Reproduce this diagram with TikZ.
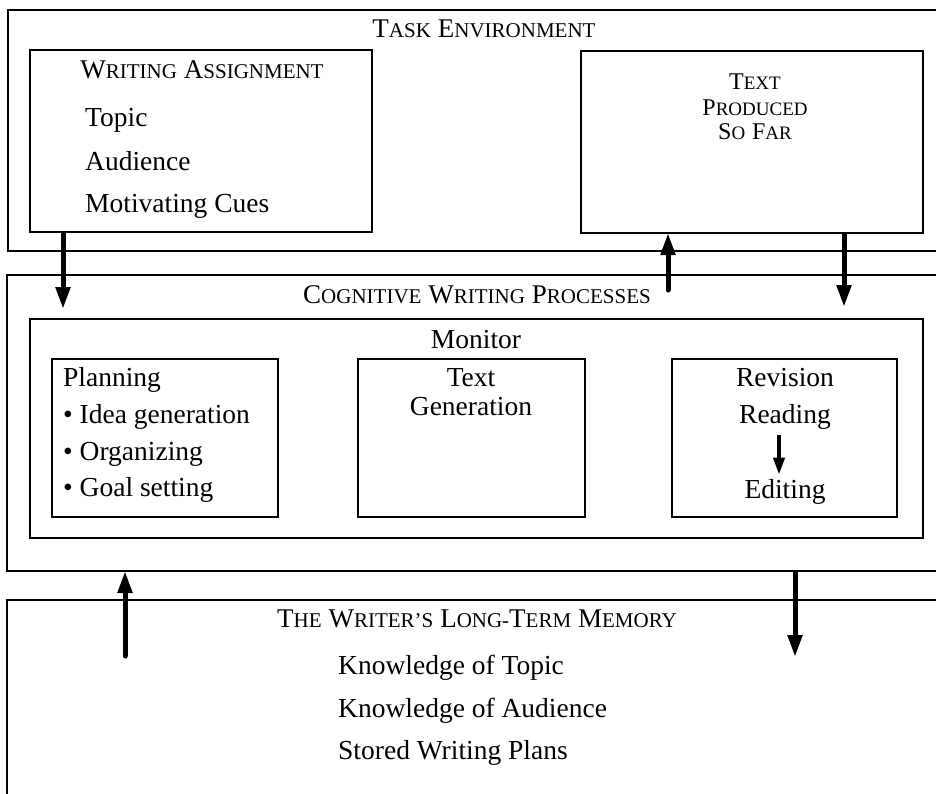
\documentclass[tikz,border=0pt]{standalone}
\usepackage{fontspec}
\setmainfont{Liberation Serif}
\usetikzlibrary{arrows.meta,calc}
\newcommand{\SCa}[2]{{\fontsize{27}{30}\selectfont #1}{\fontsize{21}{24}\selectfont #2}}
\newcommand{\SCb}[2]{{\fontsize{24}{26}\selectfont #1}{\fontsize{19}{21}\selectfont #2}}
\begin{document}
\begin{tikzpicture}[x=1pt,y=-1pt,
  frame/.style={draw,line width=1.8pt},
  box/.style={draw,line width=1.8pt,inner sep=0pt,outer sep=0pt},
  lt/.style={inner sep=0pt,anchor=base west,font=\fontsize{27.5}{30}\selectfont},
  ct/.style={inner sep=0pt,anchor=base,font=\fontsize{27.5}{30}\selectfont},
  bigarrow/.style={line width=5pt,-{Triangle[width=14pt,length=22pt]}},
  smallarrow/.style={line width=3.8pt,-{Triangle[width=11pt,length=17pt]}}]
\useasboundingbox (0,0) rectangle (936,793);
\clip (0,0) rectangle (936,793);
% outer open frames
\draw[frame] (945,10) -- (8,10) -- (8,251) -- (945,251);
\draw[frame] (945,275) -- (7,275) -- (7,571) -- (945,571);
\draw[frame] (945,600) -- (7,600) -- (7,800);
% titles
\node[ct] (tetitle) at (484,37) {\SCa{T}{ASK} \SCa{E}{NVIRONMENT}};
\node[ct] (cwtitle) at (477,303) {\SCa{C}{OGNITIVE} \SCa{W}{RITING} \SCa{P}{ROCESSES}};
\node[ct] (ltmtitle) at (477,627) {\SCa{T}{HE} \SCa{W}{RITER'S} \SCa{L}{ONG-}\SCa{T}{ERM} \SCa{M}{EMORY}};
% writing assignment
\node[box,minimum width=342pt,minimum height=182pt] (wa) at (201,141) {};
\node[ct] (watitle) at (202,78) {\SCa{W}{RITING} \SCa{A}{SSIGNMENT}};
\node[lt] (topic) at (85,126) {Topic};
\node[lt] (aud) at (85,170) {Audience};
\node[lt] (cues) at (85,212) {Motivating Cues};
% text produced so far
\node[box,minimum width=342pt,minimum height=182pt] (tp) at (752,142) {};
\node[ct] (tp1) at (755,89) {\SCb{T}{EXT}};
\node[ct] (tp2) at (755,115) {\SCb{P}{RODUCED}};
\node[ct] (tp3) at (755,139) {\SCb{S}{O} \SCb{F}{AR}};
% monitor
\node[box,minimum width=893pt,minimum height=219pt] (mon) at (476.5,428.5) {};
\node[ct] (montitle) at (476,348) {Monitor};
% planning
\node[box,minimum width=226pt,minimum height=158pt] (plan) at (165,438) {};
\node[lt] (p0) at (63,386) {Planning};
\node[lt] (p1) at (63,423) {\textbullet\ Idea generation};
\node[lt] (p2) at (63,460) {\textbullet\ Organizing};
\node[lt] (p3) at (63,496) {\textbullet\ Goal setting};
% text generation
\node[box,minimum width=227pt,minimum height=158pt] (tg) at (471.5,438) {};
\node[ct] (tg1) at (471,386) {Text};
\node[ct] (tg2) at (471,415) {Generation};
% revision
\node[box,minimum width=225pt,minimum height=158pt] (rev) at (784.5,438) {};
\node[ct] (rv0) at (785,386) {Revision};
\node[ct] (rv1) at (785,423) {Reading};
\node[ct] (rv2) at (785,498) {Editing};
% long-term memory items
\node[lt] (k1) at (338,674) {Knowledge of Topic};
\node[lt] (k2) at (338,717) {Knowledge of Audience};
\node[lt] (k3) at (338,759) {Stored Writing Plans};
% arrow end points
\coordinate (waend) at (63,309);
\coordinate (cgup) at (668,290);
\coordinate (cgdown) at (844,307);
\coordinate (ltmup) at (125,656);
\coordinate (cgbot1) at (125,571);
\coordinate (cgbot2) at (795,571);
\coordinate (ltmdown) at (795,657);
% arrows
\draw[bigarrow] ($(wa.south west)+(33,0)$) -- (waend);
\draw[bigarrow,line cap=round] (cgup) -- ($(tp.south west)+(87,0)$);
\draw[bigarrow] ($(tp.south west)+(263,0)$) -- (cgdown);
\draw[bigarrow,line cap=round] (ltmup) -- (cgbot1);
\draw[bigarrow] (cgbot2) -- (ltmdown);
\draw[smallarrow] ($(rv1.south)+(-6,6)$) -- ($(rv2.north)+(-6,-4)$);
\end{tikzpicture}
\end{document}
